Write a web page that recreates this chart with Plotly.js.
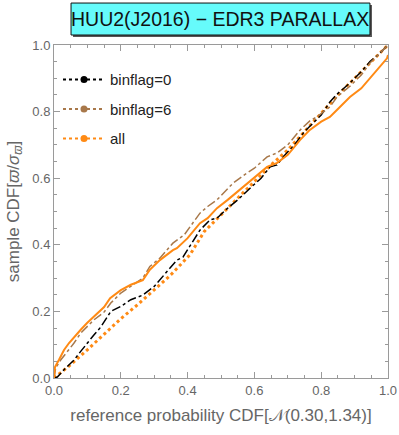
<!DOCTYPE html>
<html>
<head>
<meta charset="utf-8">
<script src="https://cdn.plot.ly/plotly-3.0.1.min.js"></script>
<style>
  body { margin: 0; background: #fff; }
  #chart { width: 399px; height: 435px; }
</style>
</head>
<body>
<div id="chart"></div>
<script>
// binflag=0 sample CDF
var flag0X = [0, 0.01, 0.03, 0.06, 0.08, 0.099, 0.12, 0.14, 0.165, 0.17, 0.2, 0.23, 0.266, 0.3, 0.33, 0.368, 0.386, 0.41, 0.437, 0.467, 0.488, 0.52, 0.55, 0.587, 0.62, 0.647, 0.668, 0.686, 0.72, 0.75, 0.775, 0.8, 0.826, 0.847, 0.886, 0.92, 0.946, 0.97, 1];
var flag0Y = [0, 0.003, 0.025, 0.054, 0.08, 0.105, 0.13, 0.153, 0.195, 0.2, 0.215, 0.235, 0.249, 0.275, 0.31, 0.354, 0.363, 0.4, 0.444, 0.475, 0.48, 0.51, 0.535, 0.57, 0.6, 0.634, 0.64, 0.664, 0.7, 0.74, 0.766, 0.79, 0.829, 0.852, 0.886, 0.92, 0.95, 0.97, 1];

// binflag=6 sample CDF
var flag6X = [0, 0.005, 0.02, 0.04, 0.06, 0.08, 0.099, 0.12, 0.15, 0.17, 0.2, 0.23, 0.266, 0.287, 0.317, 0.356, 0.39, 0.437, 0.46, 0.488, 0.536, 0.57, 0.6, 0.638, 0.668, 0.7, 0.737, 0.766, 0.787, 0.826, 0.847, 0.886, 0.92, 0.946, 0.97, 1];
var flag6Y = [0, 0.03, 0.054, 0.08, 0.105, 0.135, 0.153, 0.175, 0.198, 0.225, 0.255, 0.275, 0.3, 0.335, 0.36, 0.405, 0.43, 0.495, 0.515, 0.535, 0.585, 0.61, 0.63, 0.664, 0.676, 0.7, 0.745, 0.772, 0.784, 0.814, 0.844, 0.876, 0.91, 0.946, 0.97, 1];

// all stars sample CDF
var allX = [0, 0.003, 0.015, 0.03, 0.045, 0.06, 0.08, 0.099, 0.12, 0.15, 0.168, 0.2, 0.23, 0.266, 0.287, 0.317, 0.356, 0.368, 0.4, 0.437, 0.46, 0.488, 0.52, 0.55, 0.6, 0.638, 0.668, 0.7, 0.737, 0.766, 0.8, 0.826, 0.847, 0.886, 0.92, 0.946, 0.97, 0.997, 1];
var allY = [0, 0.033, 0.055, 0.084, 0.105, 0.123, 0.145, 0.165, 0.185, 0.213, 0.24, 0.264, 0.28, 0.294, 0.325, 0.354, 0.384, 0.39, 0.42, 0.465, 0.48, 0.51, 0.535, 0.56, 0.6, 0.634, 0.646, 0.67, 0.715, 0.745, 0.77, 0.784, 0.805, 0.844, 0.87, 0.9, 0.93, 0.96, 0.97];

// all stars, dotted curve
var allDotX = [0, 0.05, 0.099, 0.15, 0.2, 0.25, 0.3, 0.35, 0.407, 0.45, 0.5, 0.55, 0.6, 0.65, 0.7, 0.75, 0.8, 0.85, 0.9, 0.95, 1];
var allDotY = [0, 0.04, 0.084, 0.13, 0.178, 0.22, 0.264, 0.31, 0.37, 0.44, 0.49, 0.54, 0.59, 0.64, 0.685, 0.74, 0.795, 0.85, 0.9, 0.95, 1];

var seriesNames = ["binflag=0", "binflag=6", "all"];
var seriesColors = ["#000000", "#a8784a", "#ff8a14"];
var titleText = "HUU2(J2016) − EDR3 PARALLAX";

var data = [
  {x: allDotX, y: allDotY, mode: "lines", showlegend: false, hoverinfo: "skip",
   line: {color: seriesColors[2], width: 3, dash: "dot"}},
  {x: flag0X, y: flag0Y, mode: "lines", showlegend: false,
   line: {color: seriesColors[0], width: 1.5, dash: "dashdot"}},
  {x: flag6X, y: flag6Y, mode: "lines", showlegend: false,
   line: {color: seriesColors[1], width: 1.5, dash: "dashdot"}},
  {x: allX, y: allY, mode: "lines", showlegend: false,
   line: {color: seriesColors[2], width: 2}}
];

// legend entries
for (var i = 0; i < seriesNames.length; i++) {
  data.push({
    x: [null], y: [null], name: seriesNames[i], legendgroup: "g" + i,
    mode: "lines+markers",
    line: {color: seriesColors[i], width: 2, dash: "dot"},
    marker: {color: seriesColors[i], size: 7}
  });
}

var axisStyle = {
  range: [0, 1],
  dtick: 0.2,
  tickformat: ".1f",
  ticks: "inside",
  ticklen: 6,
  tickcolor: "#9a9a9a",
  showline: true,
  linecolor: "#9a9a9a",
  linewidth: 1,
  mirror: "ticks",
  showgrid: false,
  zeroline: false,
  tickfont: {family: "Liberation Sans, Arial, sans-serif", size: 13, color: "#666"},
  minor: {ticks: "inside", dtick: 0.05, ticklen: 3, tickcolor: "#9a9a9a"}
};

var layout = {
  width: 399,
  height: 435,
  margin: {l: 54, r: 11, t: 45, b: 57},
  paper_bgcolor: "#fff",
  plot_bgcolor: "#fff",
  showlegend: true,
  legend: {
    x: 0.012, y: 0.945, xanchor: "left", yanchor: "top",
    bgcolor: "rgba(0,0,0,0)",
    font: {family: "Liberation Sans, Arial, sans-serif", size: 15, color: "#222"},
    tracegroupgap: 7,
    itemwidth: 42
  },
  xaxis: Object.assign({}, axisStyle, {
    title: {text: "reference probability CDF[𝒩(0.30,1.34)]", standoff: 12,
            font: {family: "Liberation Sans, Arial, sans-serif", size: 17, color: "#666"}}
  }),
  yaxis: Object.assign({}, axisStyle, {
    title: {text: "sample CDF[<i>ϖ</i>/<i>σ</i><sub><i>ϖ</i></sub>]", standoff: 8,
            font: {family: "Liberation Sans, Arial, sans-serif", size: 17, color: "#666"}}
  }),
  shapes: [
    // title box shadow, then box
    {type: "rect", xref: "paper", yref: "paper", x0: 0.057, x1: 0.952, y0: 1.024, y1: 1.12,
     fillcolor: "#555", line: {width: 0}},
    {type: "rect", xref: "paper", yref: "paper", x0: 0.051, x1: 0.946, y0: 1.030, y1: 1.126,
     fillcolor: "#66fbfb", line: {color: "#111", width: 1}}
  ],
  annotations: [
    {xref: "paper", yref: "paper", x: 0.4985, y: 1.078, yanchor: "middle",
     text: titleText, showarrow: false,
     font: {family: "Liberation Sans, Arial, sans-serif", size: 19.5, color: "#111"}}
  ]
};

Plotly.newPlot("chart", data, layout, {displayModeBar: false, staticPlot: true});
</script>
</body>
</html>
